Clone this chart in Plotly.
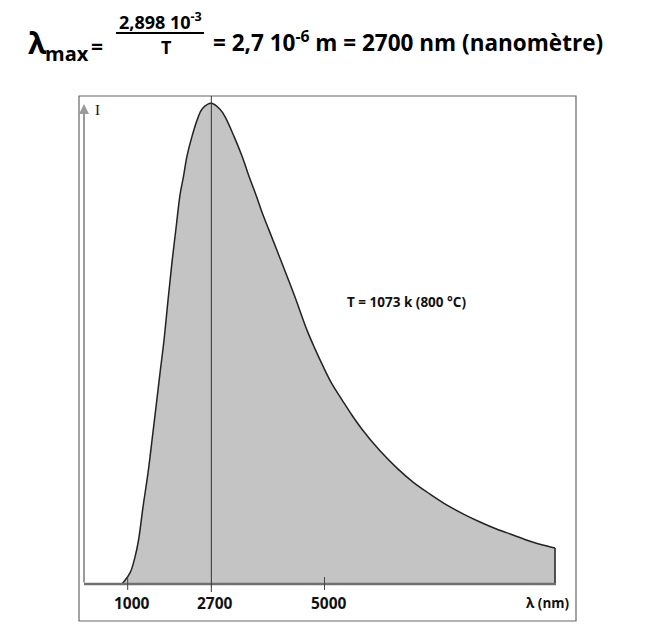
import plotly.graph_objects as go

# wavelength (nm) and relative intensity (peak = 100)
lam = [884, 1047, 1148, 1220, 1311, 1413, 1494, 1575, 1657, 1738, 1819, 1900,
       1982, 2063, 2134, 2205, 2307, 2429, 2520, 2700,
       2880, 2978, 3161, 3323, 3465, 3608, 3730, 3872, 4136, 4400, 4644,
       4807, 4970, 5152, 5356, 5559, 5762, 6128, 6474, 6799, 7144, 7490, 7815,
       8161, 8506, 8831, 9177, 9522, 9685]
intensity = [0, 2.3, 5.6, 9.1, 16.0, 23.1, 29.9, 36.8, 43.9, 50.7, 59.0, 66.9,
             74.0, 80.9, 84.8, 89.0, 93.1, 97.0, 98.9, 100,
             98.7, 97.2, 93.1, 89.0, 84.8, 80.9, 77.3, 73.6, 66.7, 59.7, 52.8,
             48.9, 45.3, 41.6, 38.3, 35.1, 32.2, 27.7, 24.1, 21.2, 18.7, 16.4, 14.6,
             12.9, 11.4, 10.2, 8.9, 7.9, 7.5]
tick_vals = [1000, 2700, 5000]
tick_text = ["1000", "2700", "5000"]
lam_max = 2700

OFF = 8  # page body margin
W_FIG, H_FIG = 659 - 2 * OFF, 635 - 2 * OFF
# plot area in reference pixels
L, R, T, B = 84, 556, 96, 584
PW, PH = R - L, B - T


def fx(p):
    return (p - L) / PW


def fy(p):
    return (B - p) / PH


FONT = "Open Sans, Liberation Sans, sans-serif"

fig = go.Figure()
fig.add_trace(go.Scatter(
    x=lam, y=intensity, mode="lines", fill="tozeroy",
    fillcolor="#c4c4c4", line=dict(color="#222222", width=1.5, shape="spline", smoothing=1),
    hoverinfo="skip", showlegend=False,
))
# right edge of the filled area
fig.add_trace(go.Scatter(
    x=[lam[-1], lam[-1]], y=[intensity[-1], 0], mode="lines",
    line=dict(color="#222222", width=1.5), hoverinfo="skip", showlegend=False,
))

shapes = []
# outer frame
shapes.append(dict(type="rect", xref="paper", yref="paper",
                   x0=fx(79), x1=fx(576), y0=fy(621), y1=fy(96),
                   line=dict(color="#666666", width=1.2)))
# baseline (lambda axis)
shapes.append(dict(type="line", xref="paper", yref="paper",
                   x0=0, x1=1, y0=0, y1=0, line=dict(color="#707070", width=2.5)))
# tick marks
for v in tick_vals:
    if v == lam_max:
        continue
    shapes.append(dict(type="line", xref="x", yref="paper", x0=v, x1=v,
                       y0=fy(590), y1=fy(577), line=dict(color="#444444", width=1)))
# lambda max vertical line
shapes.append(dict(type="line", xref="x", yref="paper", x0=lam_max, x1=lam_max,
                   y0=fy(592), y1=fy(96), line=dict(color="#333333", width=1)))
# fraction bar
shapes.append(dict(type="line", xref="paper", yref="paper",
                   x0=fx(116), x1=fx(204), y0=fy(33), y1=fy(33),
                   line=dict(color="black", width=2)))

ann = []
# intensity axis arrow
ann.append(dict(xref="paper", yref="paper", x=0, y=fy(104), text="", showarrow=True,
                ax=0, ay=480, arrowhead=2, arrowsize=1, arrowwidth=2, arrowcolor="#9a9a9a"))
ann.append(dict(xref="paper", yref="paper", x=fx(93), y=fy(110), text="I",
                showarrow=False, xanchor="left", yanchor="middle",
                font=dict(family="Liberation Serif, serif", size=15, color="#111111")))
for v, t in zip(tick_vals, tick_text):
    ann.append(dict(xref="x", yref="paper", x=v, y=fy(603), text="<b>" + t + "</b>",
                    showarrow=False, xanchor="center", yanchor="middle", xshift=4,
                    font=dict(family=FONT, size=15.5, color="#111111")))
ann.append(dict(xref="paper", yref="paper", x=fx(572), y=fy(603), text="<b>λ (nm)</b>",
                showarrow=False, xanchor="right", yanchor="middle",
                font=dict(family=FONT, size=13.5, color="#111111")))
ann.append(dict(xref="paper", yref="paper", x=fx(406), y=fy(302),
                text="<b>T = 1073 k (800 °C)</b>", showarrow=False,
                xanchor="center", yanchor="middle",
                font=dict(family=FONT, size=13.5, color="#111111")))

# formula at the top
ann.append(dict(xref="paper", yref="paper", x=fx(26), y=fy(42), text="<b>λ</b>",
                showarrow=False, xanchor="left", yanchor="middle",
                font=dict(family=FONT, size=30, color="black")))
ann.append(dict(xref="paper", yref="paper", x=fx(43), y=fy(54), text="<b>max</b>",
                showarrow=False, xanchor="left", yanchor="middle",
                font=dict(family=FONT, size=20, color="black")))
ann.append(dict(xref="paper", yref="paper", x=fx(89), y=fy(46), text="<b>=</b>",
                showarrow=False, xanchor="left", yanchor="middle",
                font=dict(family=FONT, size=21, color="black")))
ann.append(dict(xref="paper", yref="paper", x=fx(160), y=fy(21),
                text="<b>2,898 10<sup>-3</sup></b>", showarrow=False,
                xanchor="center", yanchor="middle",
                font=dict(family=FONT, size=18, color="black")))
ann.append(dict(xref="paper", yref="paper", x=fx(166), y=fy(47), text="<b>T</b>",
                showarrow=False, xanchor="center", yanchor="middle",
                font=dict(family=FONT, size=18, color="black")))
ann.append(dict(xref="paper", yref="paper", x=fx(211), y=fy(41),
                text="<b>= 2,7 10<sup>-6</sup> m = 2700 nm (nanomètre)</b>",
                showarrow=False, xanchor="left", yanchor="middle",
                font=dict(family=FONT, size=22.5, color="black")))

fig.update_layout(
    width=W_FIG, height=H_FIG,
    margin=dict(l=L - OFF, r=W_FIG - (R - OFF), t=T - OFF, b=H_FIG - (B - OFF)),
    paper_bgcolor="white", plot_bgcolor="white",
    xaxis=dict(range=[112, 9705], showgrid=False, zeroline=False, showline=False,
               showticklabels=False, ticks=""),
    yaxis=dict(range=[0, 101.5], showgrid=False, zeroline=False, showline=False,
               showticklabels=False, ticks=""),
    shapes=shapes, annotations=ann,
)

fig.write_html("out.html")
